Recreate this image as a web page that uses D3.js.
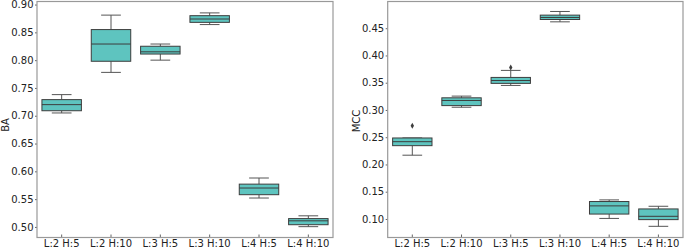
<!DOCTYPE html>
<html>
<head>
<meta charset="utf-8">
<script src="https://cdn.jsdelivr.net/npm/d3@7"></script>
<style>
  body { margin: 0; background: #fff; }
  text { font-family: "DejaVu Sans", sans-serif; }
</style>
</head>
<body>
<div id="chart"></div>
<script>
const categories = ["L:2 H:5", "L:2 H:10", "L:3 H:5", "L:3 H:10", "L:4 H:5", "L:4 H:10"];

// BA box stats per category
const baLow  = [0.705, 0.778, 0.800, 0.864, 0.552, 0.5005];
const baQ1   = [0.709, 0.798, 0.811, 0.868, 0.558, 0.504];
const baMed  = [0.720, 0.829, 0.815, 0.874, 0.570, 0.511];
const baQ3   = [0.729, 0.855, 0.825, 0.880, 0.577, 0.515];
const baHigh = [0.738, 0.881, 0.829, 0.885, 0.588, 0.520];
const baTicks = [0.50, 0.55, 0.60, 0.65, 0.70, 0.75, 0.80, 0.85, 0.90];

// MCC box stats per category
const mccLow  = [0.217, 0.305, 0.345, 0.4617, 0.101, 0.0865];
const mccQ1   = [0.2345, 0.308, 0.3488, 0.466, 0.109, 0.0988];
const mccMed  = [0.2418, 0.3174, 0.354, 0.4697, 0.124, 0.1049];
const mccQ3   = [0.2486, 0.3223, 0.3597, 0.474, 0.132, 0.1184];
const mccHigh = [0.2486, 0.3254, 0.3726, 0.4807, 0.135, 0.1233];
const mccOutliers = [[0, 0.271], [2, 0.378]];
const mccTicks = [0.10, 0.15, 0.20, 0.25, 0.30, 0.35, 0.40, 0.45];

const fillColor = "#5ec4bf";
const edgeColor = "#3d3d3d";
const frameColor = "#999";

const svg = d3.select("#chart").append("svg")
  .attr("width", 685)
  .attr("height", 248);

function drawPanel(opts) {
  const { left, right, top, bottom, domain, ticks, label, labelX, labelY,
          low, q1, med, q3, high, outliers } = opts;

  const x = d3.scaleBand().domain(categories).range([left, right]);
  const y = d3.scaleLinear().domain(domain).range([bottom, top]);
  const boxW = x.bandwidth() * 0.8;
  const capW = boxW * 0.5;

  const g = svg.append("g");

  // y axis
  const yAxis = g.append("g")
    .attr("transform", "translate(" + left + ",0)")
    .call(d3.axisLeft(y).tickValues(ticks).tickFormat(d3.format(".2f"))
      .tickSize(2).tickSizeOuter(0).tickPadding(1.5));
  yAxis.select(".domain").remove();
  yAxis.selectAll("line").attr("stroke", "#666");
  yAxis.selectAll("text").attr("font-size", 10).attr("fill", "#222")
    .style("font-family", "'DejaVu Sans', sans-serif");

  // x axis
  const xAxis = g.append("g")
    .attr("transform", "translate(0," + bottom + ")")
    .call(d3.axisBottom(x).tickSize(-3).tickSizeOuter(0).tickPadding(2));
  xAxis.select(".domain").remove();
  xAxis.selectAll("line").attr("stroke", "#666");
  xAxis.selectAll("text").attr("font-size", 10).attr("fill", "#222")
    .style("font-family", "'DejaVu Sans', sans-serif");

  // frame
  g.append("rect")
    .attr("x", left).attr("y", top)
    .attr("width", right - left).attr("height", bottom - top)
    .attr("fill", "none").attr("stroke", frameColor).attr("stroke-width", 1.2);

  const boxes = g.selectAll(".box").data(categories).enter().append("g");
  const cx = (d) => x(d) + x.bandwidth() / 2;

  // whiskers
  boxes.append("line")
    .attr("x1", cx).attr("x2", cx)
    .attr("y1", (d, i) => y(q3[i])).attr("y2", (d, i) => y(high[i]))
    .attr("stroke", "#555").attr("stroke-width", 1);
  boxes.append("line")
    .attr("x1", cx).attr("x2", cx)
    .attr("y1", (d, i) => y(q1[i])).attr("y2", (d, i) => y(low[i]))
    .attr("stroke", "#555").attr("stroke-width", 1);
  boxes.append("line")
    .attr("x1", d => cx(d) - capW / 2).attr("x2", d => cx(d) + capW / 2)
    .attr("y1", (d, i) => y(high[i])).attr("y2", (d, i) => y(high[i]))
    .attr("stroke", "#555").attr("stroke-width", 1);
  boxes.append("line")
    .attr("x1", d => cx(d) - capW / 2).attr("x2", d => cx(d) + capW / 2)
    .attr("y1", (d, i) => y(low[i])).attr("y2", (d, i) => y(low[i]))
    .attr("stroke", "#555").attr("stroke-width", 1);

  // boxes
  boxes.append("rect")
    .attr("x", d => cx(d) - boxW / 2)
    .attr("width", boxW)
    .attr("y", (d, i) => y(q3[i]))
    .attr("height", (d, i) => y(q1[i]) - y(q3[i]))
    .attr("fill", fillColor)
    .attr("stroke", edgeColor).attr("stroke-width", 1);

  // medians
  boxes.append("line")
    .attr("x1", d => cx(d) - boxW / 2).attr("x2", d => cx(d) + boxW / 2)
    .attr("y1", (d, i) => y(med[i])).attr("y2", (d, i) => y(med[i]))
    .attr("stroke", edgeColor).attr("stroke-width", 1);

  // outliers
  g.selectAll(".outlier").data(outliers || []).enter().append("path")
    .attr("d", d3.symbol(d3.symbolDiamond, 10))
    .attr("transform", d => "translate(" + cx(categories[d[0]]) + "," + y(d[1]) + ")")
    .attr("fill", edgeColor);

  // axis label
  g.append("text")
    .attr("transform", "translate(" + labelX + "," + labelY + ") rotate(-90)")
    .attr("text-anchor", "middle")
    .attr("font-size", 10)
    .attr("fill", "#222")
    .text(label);
}

drawPanel({
  left: 37, right: 333, top: 1.5, bottom: 237.5,
  domain: [0.481, 0.9055], ticks: baTicks,
  label: "BA", labelX: 9, labelY: 125,
  low: baLow, q1: baQ1, med: baMed, q3: baQ3, high: baHigh
});

drawPanel({
  left: 387.7, right: 683, top: 1.5, bottom: 237.5,
  domain: [0.066, 0.499], ticks: mccTicks,
  label: "MCC", labelX: 359.5, labelY: 121,
  low: mccLow, q1: mccQ1, med: mccMed, q3: mccQ3, high: mccHigh,
  outliers: mccOutliers
});
</script>
</body>
</html>
